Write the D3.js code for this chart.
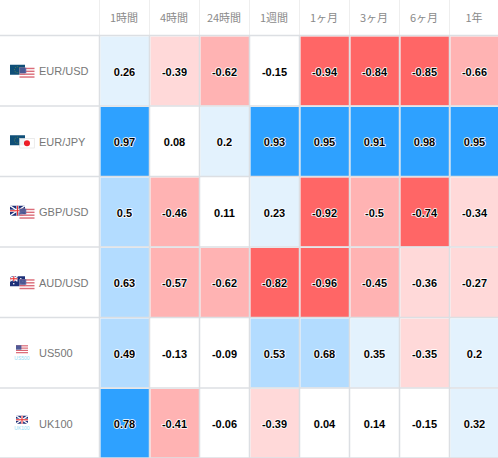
<!DOCTYPE html>
<html><head><meta charset="utf-8">
<script src="https://cdn.jsdelivr.net/npm/d3@7"></script>
<style>html,body{margin:0;padding:0;background:#fff;overflow:hidden}svg{display:block}</style>
</head><body><svg id="c" width="498" height="458"></svg>
<script>
const periods=["1時間","4時間","24時間","1週間","1ヶ月","3ヶ月","6ヶ月","1年"];
const instruments=["EUR/USD","EUR/JPY","GBP/USD","AUD/USD","US500","UK100"];
const flagPairs=[["eu","us"],["eu","jp"],["gb","us"],["au","us"],["us"],["gb"]];
const eurusd=[0.26,-0.39,-0.62,-0.15,-0.94,-0.84,-0.85,-0.66];
const eurjpy=[0.97,0.08,0.2,0.93,0.95,0.91,0.98,0.95];
const gbpusd=[0.5,-0.46,0.11,0.23,-0.92,-0.5,-0.74,-0.34];
const audusd=[0.63,-0.57,-0.62,-0.82,-0.96,-0.45,-0.36,-0.27];
const us500=[0.49,-0.13,-0.09,0.53,0.68,0.35,-0.35,0.2];
const uk100=[0.78,-0.41,-0.06,-0.39,0.04,0.14,-0.15,0.32];
const rows=[eurusd,eurjpy,gbpusd,audusd,us500,uk100];
const breaks=[-0.7,-0.4,-0.2,0.2,0.4,0.7];
const swatches=["#ff6666","#ffb3b3","#ffd9d9","#ffffff","#e3f2fd","#b3dcff","#2ea1ff"];

const svg=d3.select("#c");
const FONT="'Liberation Sans',Arial,sans-serif";
const x=d3.scaleBand().domain(d3.range(periods.length)).range([99.5,499.5]);
const y=d3.scaleBand().domain(d3.range(instruments.length)).range([35.5,458.5]);
const color=d3.scaleThreshold().domain(breaks).range(swatches);

// cells
const g=svg.append("g");
rows.forEach((vals,r)=>{
  g.selectAll(null).data(vals).join("rect")
    .attr("x",(d,i)=>x(i)+1).attr("y",y(r)+1)
    .attr("width",x.bandwidth()-1.5).attr("height",y.bandwidth()-1.5)
    .attr("fill",d=>color(d));
});
// grid
const grid="#dcdfe3";
svg.append("g").selectAll("line").data(d3.range(periods.length)).join("line")
  .attr("x1",d=>x(d)).attr("x2",d=>x(d)).attr("y1",0).attr("y2",35)
  .attr("stroke","#eeeeee");
svg.append("g").selectAll("line").data(d3.range(periods.length)).join("line")
  .attr("x1",d=>x(d)).attr("x2",d=>x(d)).attr("y1",35).attr("y2",458)
  .attr("stroke",grid).attr("stroke-width",1.5);
svg.append("g").selectAll("line").data(d3.range(instruments.length+1)).join("line")
  .attr("x1",0).attr("x2",498)
  .attr("y1",d=>d<instruments.length?y(d):458).attr("y2",d=>d<instruments.length?y(d):458)
  .attr("stroke",grid).attr("stroke-width",1.5);

// header
svg.append("g").selectAll("text").data(periods).join("text")
  .attr("x",(d,i)=>x(i)+x.bandwidth()/2-0.5).attr("y",22)
  .attr("text-anchor","middle").attr("font-size",11)
  .attr("font-family","'Noto Sans CJK JP',"+FONT).attr("fill","#8a8a8a").text(d=>d);

// values
rows.forEach((vals,r)=>{
  svg.append("g").selectAll("text").data(vals).join("text")
    .attr("x",(d,i)=>x(i)+x.bandwidth()/2).attr("y",y(r)+y.bandwidth()/2+5)
    .attr("text-anchor","middle").attr("font-size",11).attr("font-weight","bold")
    .attr("font-family",FONT).attr("fill","#000")
    .attr("stroke","#fff").attr("stroke-width",1.6).attr("paint-order","stroke")
    .attr("stroke-linejoin","round").text(d=>d);
});

// row labels
svg.append("g").selectAll("text").data(instruments).join("text")
  .attr("x",39).attr("y",(d,i)=>y(i)+y.bandwidth()/2+4.5)
  .attr("font-size",11).attr("font-family",FONT).attr("fill","#777").text(d=>d);

// flags
function flag(par,code,fx,fy,w,h,op){
  const f=par.append("g").attr("transform",`translate(${fx},${fy})`).attr("opacity",op);
  const R=(a,b,c,d,col)=>f.append("rect").attr("x",a).attr("y",b).attr("width",c).attr("height",d).attr("fill",col);
  if(code==="us"){
    R(0,0,w,h,"#fff");
    const n=7;
    d3.range(n).filter(i=>i%2==0).forEach(i=>R(0,i*h/n,w,h/n,"#d9616f"));
    R(0,0,w*0.45,h*0.55,"#4f5a96");
  } else if(code==="eu"){
    R(0,0,w,h,"#0f4f78");
    f.append("circle").attr("cx",w/2).attr("cy",h/2).attr("r",h*0.3).attr("fill","none")
     .attr("stroke","#7f9a3c").attr("stroke-width",0.7).attr("stroke-dasharray","1 1.2");
  } else if(code==="jp"){
    R(0,0,w,h,"#fff");
    f.append("rect").attr("x",.25).attr("y",.25).attr("width",w-.5).attr("height",h-.5).attr("fill","none").attr("stroke","#dddddd").attr("stroke-width",.6);
    f.append("circle").attr("cx",w/2).attr("cy",h/2).attr("r",h*0.3).attr("fill","#ee0a14");
  } else if(code==="gb"||code==="au"){
    const uw=code==="au"?w/2:w, uh=code==="au"?h/2:h;
    R(0,0,w,h,"#1c2f78");
    const L=(a,b,c,d,col,s)=>f.append("line").attr("x1",a).attr("y1",b).attr("x2",c).attr("y2",d).attr("stroke",col).attr("stroke-width",s);
    L(0,0,uw,uh,"#fff",1.5);L(uw,0,0,uh,"#fff",1.5);
    L(uw/2,0,uw/2,uh,"#fff",2.2);L(0,uh/2,uw,uh/2,"#fff",2.2);
    L(uw/2,0,uw/2,uh,"#e33",1.1);L(0,uh/2,uw,uh/2,"#e33",1.1);
    if(code==="au"){
      [[.25,.75],[.72,.25],[.85,.5],[.72,.75]].forEach(p=>f.append("circle").attr("cx",p[0]*w).attr("cy",p[1]*h).attr("r",.8).attr("fill","#fff"));
    }
  }
}
flagPairs.forEach((p,i)=>{
  const cy=y(i)+y.bandwidth()/2;
  const fl=svg.append("g");
  if(p.length===2){
    flag(fl,p[0],10,cy-6,15,10,1);
    flag(fl,p[1],19.5,cy-3,15,10,0.92);
  } else {
    flag(fl,p[0],16,cy-7.5,12,8,1);
    fl.append("text").attr("x",22).attr("y",cy+7).attr("text-anchor","middle")
      .attr("font-size",5).attr("font-family",FONT).attr("fill","#8fdcf5")
      .text(instruments[i]);
  }
});
</script></body></html>
